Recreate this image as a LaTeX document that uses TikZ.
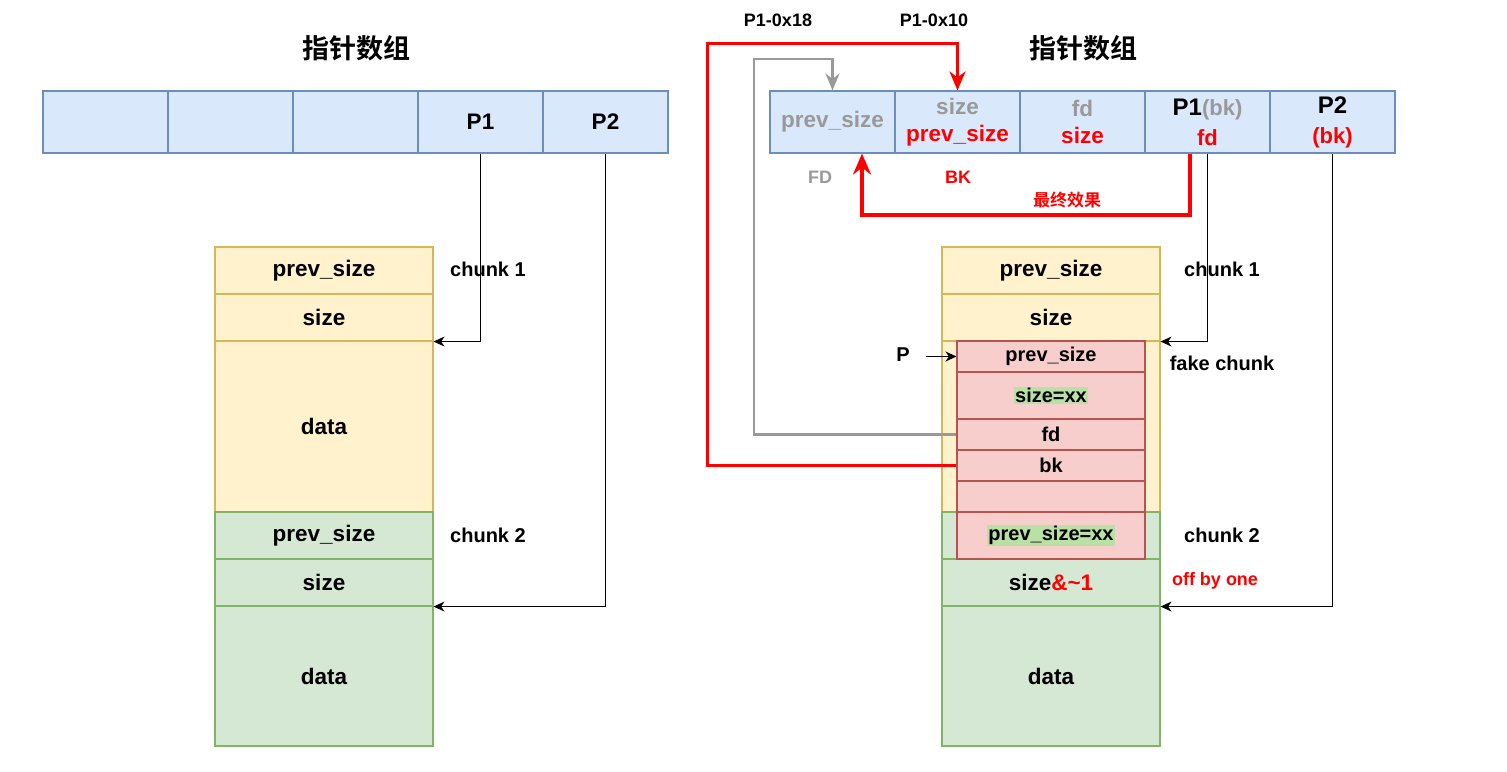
\documentclass[tikz,border=0pt]{standalone}
\usepackage{fontspec}
\setmainfont{Liberation Sans}
\newfontfamily\cjk{Noto Sans CJK SC}[BoldFont={Noto Sans CJK SC Bold}]
\usetikzlibrary{arrows.meta}
\definecolor{bfill}{HTML}{DAE8FC}
\definecolor{bline}{HTML}{6C8EBF}
\definecolor{yfill}{HTML}{FFF2CC}
\definecolor{yline}{HTML}{D6B656}
\definecolor{gfill}{HTML}{D5E8D4}
\definecolor{gline}{HTML}{82B366}
\definecolor{rfill}{HTML}{F8CECC}
\definecolor{rline}{HTML}{B85450}
\definecolor{hlgreen}{HTML}{B9E0A5}
\definecolor{txtgray}{HTML}{999999}
\definecolor{pure}{HTML}{FF0000}
\newcommand\fsz[2]{\fontsize{#1pt}{#2pt}\selectfont}
\newcommand\hl[1]{{\setlength{\fboxsep}{1pt}\colorbox{hlgreen}{#1}}}
\begin{document}
\begin{tikzpicture}[x=1pt,y=-1pt,
  base/.style={line width=1.1pt, inner sep=0pt, font=\bfseries\fsz{22.5}{27}, align=center},
  arrcell/.style={base, draw=bline, fill=bfill, minimum width=125pt, minimum height=62pt},
  ycell/.style={base, draw=yline, fill=yfill, minimum width=218pt},
  gcell/.style={base, draw=gline, fill=gfill, minimum width=218pt},
  fcell/.style={base, draw=rline, fill=rfill, minimum width=188pt, font=\bfseries\fsz{20}{24}},
  lbl/.style={inner sep=0pt, font=\bfseries\fsz{20}{24}},
  small/.style={inner sep=0pt, font=\bfseries\fsz{18}{22}},
  title/.style={inner sep=0pt, font=\cjk\bfseries\fsz{27}{32}},
  blk/.style={line width=1pt, draw=black, -{Stealth[length=11pt,width=10pt,inset=3.5pt]}},
  gry/.style={line width=2.5pt, draw=txtgray, -{Stealth[length=17pt,width=14pt,inset=5.5pt]}},
  redl/.style={line width=3pt, draw=pure, -{Stealth[length=19pt,width=16pt,inset=6pt]}},
  redt/.style={line width=4pt, draw=pure, -{Stealth[length=21pt,width=18pt,inset=7pt]}},
]
\useasboundingbox (0,0) rectangle (1507,771);

% ---------------- left side ----------------
\node[title] (tl) at (356,48) {指针数组};
\node[arrcell] (la1) at (105.5,122) {};
\node[arrcell] (la2) at (230.5,122) {};
\node[arrcell] (la3) at (355.5,122) {};
\node[arrcell] (la4) at (480.5,122) {P1};
\node[arrcell] (la5) at (605.5,122) {P2};

\node[ycell, minimum height=47pt] (c1prev) at (324,270.5) {prev\_size};
\node[ycell, minimum height=47pt] (c1size) at (324,317.5) {size};
\node[ycell, minimum height=171pt] (c1data) at (324,426.5) {data};
\node[gcell, minimum height=47pt] (c2prev) at (324,535.5) {prev\_size};
\node[gcell, minimum height=47pt] (c2size) at (324,582.5) {size};
\node[gcell, minimum height=140pt] (c2data) at (324,676) {data};
\node[lbl] (lc1) at (488,269) {chunk 1};
\node[lbl] (lc2) at (488,535) {chunk 2};

\draw[blk] (la4.south) |- (c1size.south east);
\draw[blk] (la5.south) |- (c2size.south east);

% ---------------- right side ----------------
\node[title] (tr) at (1083,48) {指针数组};
\node[arrcell] (ra1) at (832.5,122) {\textcolor{txtgray}{prev\_size}};
\node[arrcell] (ra2) at (957.5,122) {\textcolor{txtgray}{size}\\\textcolor{pure}{prev\_size}};
\node[arrcell] (ra3) at (1082.5,122) {\textcolor{txtgray}{fd}\\\textcolor{pure}{size}};
\node[arrcell, font=\bfseries\fsz{22}{30}] (ra4) at (1207.5,122) {{\fsz{24}{30}P1}\textcolor{txtgray}{(bk)}\\\textcolor{pure}{fd}};
\node[arrcell, font=\bfseries\fsz{22}{30}] (ra5) at (1332.5,122) {{\fsz{24}{30}P2}\\\textcolor{pure}{(bk)}};

\node[ycell, minimum height=47pt] (rc1prev) at (1051,270.5) {prev\_size};
\node[ycell, minimum height=47pt] (rc1size) at (1051,317.5) {size};
\node[ycell, minimum height=171pt] (rc1data) at (1051,426.5) {};
\node[gcell, minimum height=47pt] (rc2prev) at (1051,535.5) {};
\node[gcell, minimum height=47pt] (rc2size) at (1051,582.5) {size\textcolor{pure}{\&\textasciitilde1}};
\node[gcell, minimum height=140pt] (rc2data) at (1051,676) {data};

\node[fcell, minimum height=31pt] (fprev) at (1051,356.5) {prev\_size};
\node[fcell, minimum height=47pt] (fsize) at (1051,395.5) {\hl{size=xx}};
\node[fcell, minimum height=31pt] (ffd) at (1051,434.5) {fd};
\node[fcell, minimum height=31pt] (fbk) at (1051,465.5) {bk};
\node[fcell, minimum height=31pt] (fempty) at (1051,496.5) {};
\node[fcell, minimum height=47pt] (fprev2) at (1051,535.5) {\hl{prev\_size=xx}};

\node[lbl] (rl1) at (1222,269) {chunk 1};
\node[lbl] (rl2) at (1222,363) {fake chunk};
\node[lbl] (rl3) at (1222,535) {chunk 2};
\node[small, text=pure] (rl4) at (1215,581) {off by one};
\node[lbl] (plab) at (903,355) {P};

\node[small] (o18) at (778,20) {P1-0x18};
\node[small] (o10) at (934,20) {P1-0x10};
\node[small, text=txtgray] (fdl) at (820,177) {FD};
\node[small, text=pure] (bkl) at (958,177) {BK};
\node[inner sep=0pt, font=\cjk\bfseries\fsz{17}{20}, text=pure] (zz) at (1067,200) {最终效果};

\draw[blk] (ra4.south) |- (rc1size.south east);
\draw[blk] (ra5.south) |- (rc2size.south east);
\draw[blk] ([xshift=16pt]plab.east |- fprev.west) -- (fprev.west);

\coordinate (g1) at (754,59);
\coordinate (r1) at (707,43);
\draw[gry] (ffd.west) -| (g1) -| (ra1.north);
\draw[redl] (fbk.west) -| (r1) -| (ra2.north);
\draw[redt] ([xshift=-17.5pt]ra4.south) -- ++(0,61) -| ([xshift=29.5pt]ra1.south);
\end{tikzpicture}
\end{document}
